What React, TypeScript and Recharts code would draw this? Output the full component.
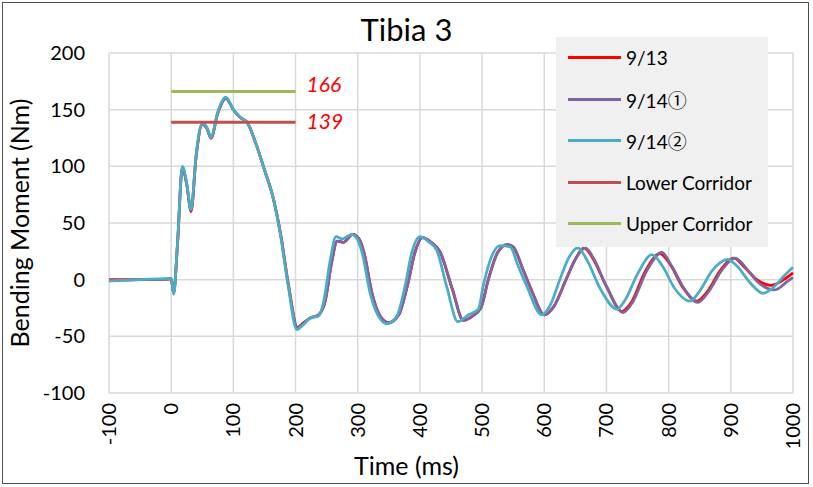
import { LineChart, Line, XAxis, YAxis, CartesianGrid } from "recharts";

const FONT = "Lato, 'Noto Sans CJK JP', sans-serif";
const CJK = "'Noto Sans CJK JP', sans-serif";

const timeTicks = [-100, 0, 100, 200, 300, 400, 500, 600, 700, 800, 900, 1000];
const momentTicks = [-100, -50, 0, 50, 100, 150, 200];

// [time ms, moment Nm]
const run0913: [number, number][] = [
  [-100, 0], [-50, 0], [-5, 0.5], [0, 1], [4, -12], [10, 30], [18, 99], [25, 84], [32, 60],
  [40, 108], [50, 137], [57, 134], [64, 125], [75, 147], [88, 160], [100, 150], [111, 143],
  [122, 139], [135, 122], [150, 97], [165, 70], [176, 40], [189, -6], [203, -42], [213, -38],
  [223, -34], [237, -31], [248, -18], [258, 15], [267, 34], [277, 33], [292, 40], [302, 36],
  [310, 24], [323, -12], [336, -32], [350, -38], [366, -31], [380, -5], [392, 24], [404, 37],
  [418, 33], [432, 25], [452, -8], [470, -36], [485, -32], [498, -25], [510, 0], [525, 24],
  [540, 31], [550, 29], [565, 10], [580, -10], [600, -31], [615, -24], [635, 0], [650, 18],
  [664, 28], [678, 19], [700, -6], [725, -28], [740, -20], [763, 8], [786, 23], [803, 13],
  [823, -7], [845, -19], [863, -10], [883, 8], [905, 19], [922, 11], [942, 0], [964, -5],
  [985, 0], [1000, 6],
];

const run0914a: [number, number][] = [
  [-100, -1], [-50, 0], [-5, 0.5], [0, 1], [4, -12], [10, 30], [18, 99], [25, 84], [32, 61],
  [40, 108], [50, 137], [57, 134], [64, 125], [75, 147], [88, 160], [100, 150], [111, 143],
  [122, 139], [135, 122], [150, 97], [165, 70], [176, 40], [189, -6], [203, -42], [213, -39],
  [223, -34], [237, -31], [248, -18], [258, 15], [267, 34], [277, 33], [292, 40], [302, 36],
  [310, 24], [323, -12], [336, -32], [350, -38], [366, -31], [380, -5], [392, 24], [404, 37],
  [418, 33], [432, 25], [452, -8], [470, -36], [485, -32], [498, -25], [510, 0], [525, 24],
  [540, 31], [550, 29], [565, 10], [580, -10], [600, -31], [615, -24], [635, 0], [650, 18],
  [666, 28], [680, 18], [700, -6], [727, -29], [742, -20], [765, 8], [789, 24], [805, 12],
  [825, -8], [847, -20], [865, -10], [885, 8], [907, 19], [925, 10], [945, -3], [971, -9],
  [990, -2], [1000, 2],
];

const run0914b: [number, number][] = [
  [-100, -1], [-50, 0], [-5, 1], [0, 1], [4, -13], [10, 30], [18, 100], [25, 85], [32, 62],
  [40, 110], [50, 138], [57, 135], [64, 126], [75, 148], [88, 161], [100, 150], [111, 143],
  [122, 139], [135, 122], [150, 97], [165, 70], [175, 42], [188, -5], [202, -44], [212, -40],
  [223, -34], [237, -32], [245, -20], [256, 18], [265, 38], [275, 36], [290, 40], [300, 35],
  [307, 24], [320, -12], [333, -32], [347, -39], [363, -32], [376, -6], [387, 24], [400, 38],
  [415, 33], [427, 26], [443, -6], [461, -37], [478, -31], [494, -26], [502, -5], [515, 20],
  [529, 30], [545, 29], [558, 12], [572, -6], [596, -31], [610, -22], [625, 0], [640, 20],
  [654, 28], [668, 18], [690, -8], [717, -26], [730, -18], [750, 5], [773, 22], [790, 12],
  [810, -8], [834, -19], [850, -10], [870, 8], [895, 18], [910, 12], [930, -2], [952, -12],
  [970, -6], [985, 3], [1000, 11],
];

const corridorStart = 0;
const corridorEnd = 200;
const lowerCorridor = 139;
const upperCorridor = 166;

const toRows = (pts: [number, number][]) => pts.map(([t, v]) => ({ t, v }));

const series = [
  { name: "9/13", color: "#FF0000", data: toRows(run0913) },
  { name: "9/14①", color: "#8064A2", data: toRows(run0914a) },
  { name: "9/14②", color: "#4BACC6", data: toRows(run0914b) },
];

const corridors = [
  { name: "Lower Corridor", color: "#C0504D", value: lowerCorridor, labelShift: 0 },
  { name: "Upper Corridor", color: "#9BBB59", value: upperCorridor, labelShift: -7 },
];

const legendItems = [...series, ...corridors].map((s) => ({ name: s.name, color: s.color }));

const TimeTick = (props: any) => {
  const { x, y, payload } = props;
  return (
    <text
      x={0}
      y={0}
      transform={`translate(${x},${y + 2}) rotate(-90)`}
      textAnchor="end"
      dy="0.35em"
      fontSize={20}
      fontFamily={FONT}
      fill="#000"
    >
      {payload.value}
    </text>
  );
};

// circled digits look better in the CJK font
const renderName = (name: string) => {
  const m = name.match(/^(.*?)([\u2460-\u2473])$/);
  if (!m) return name;
  return (
    <>
      {m[1]}
      <span style={{ fontFamily: CJK }}>{m[2]}</span>
    </>
  );
};

const LegendBox = () => (
  <div
    style={{
      position: "absolute",
      left: 556,
      top: 37,
      background: "#F0F0F0",
      width: 212,
      height: 210,
      boxSizing: "border-box",
      paddingLeft: 12,
    }}
  >
    {legendItems.map((it) => (
      <div key={it.name} style={{ display: "flex", alignItems: "center", height: 41.5 }}>
        <div style={{ width: 53, height: 3, background: it.color, marginRight: 5 }} />
        <span style={{ fontFamily: FONT, fontSize: 19, color: "#000", whiteSpace: "nowrap" }}>
          {renderName(it.name)}
        </span>
      </div>
    ))}
  </div>
);

const endLabel = (color: string, text: string, shift: number) => (props: any) => {
  const { x, y, index } = props;
  if (index !== 1) return null;
  return (
    <text
      key={text}
      x={x + 11}
      y={y + shift}
      dy="0.35em"
      fontSize={21}
      fontStyle="italic"
      fontFamily={FONT}
      fill={color}
    >
      {text}
    </text>
  );
};

export default function App() {
  return (
    <div style={{ position: "absolute", left: 0, top: 0, width: 813, height: 487, background: "#fff" }}>
      <div
        style={{
          position: "absolute",
          left: 0,
          width: 813,
          top: 12,
          lineHeight: "34px",
          textAlign: "center",
          fontFamily: FONT,
          fontSize: 31,
          color: "#000",
        }}
      >
        Tibia 3
      </div>
      <LineChart width={813} height={487} margin={{ top: 53, right: 20, bottom: 0, left: 0 }}>
        <CartesianGrid stroke="#D9D9D9" strokeWidth={1.5} />
        <XAxis
          type="number"
          dataKey="t"
          domain={[-100, 1000]}
          ticks={timeTicks}
          interval={0}
          height={94}
          axisLine={false}
          tickLine={false}
          tick={<TimeTick />}
        />
        <YAxis
          type="number"
          domain={[-100, 200]}
          ticks={momentTicks}
          interval={0}
          width={109}
          axisLine={false}
          tickLine={false}
          tick={{ fontSize: 20, fontFamily: FONT, fill: "#000" }}
          tickMargin={18}
          label={{
            value: "Bending Moment (Nm)",
            angle: -90,
            position: "insideLeft",
            offset: 20,
            style: { textAnchor: "middle" },
            fontSize: 25,
            fontFamily: FONT,
            fill: "#000",
          }}
        />
        {series.map((s) => (
          <Line
            key={s.name}
            name={s.name}
            data={s.data}
            dataKey="v"
            type="monotone"
            stroke={s.color}
            strokeWidth={2.75}
            dot={false}
            isAnimationActive={false}
          />
        ))}
        {corridors.map((c) => (
          <Line
            key={c.name}
            name={c.name}
            data={[
              { t: corridorStart, v: c.value },
              { t: corridorEnd, v: c.value },
            ]}
            dataKey="v"
            type="linear"
            stroke={c.color}
            strokeWidth={3}
            dot={false}
            isAnimationActive={false}
            label={endLabel("#FF0000", String(c.value), c.labelShift)}
          />
        ))}
      </LineChart>
      <div
        style={{
          position: "absolute",
          left: 0,
          width: 813,
          top: 450,
          lineHeight: "30px",
          textAlign: "center",
          fontFamily: FONT,
          fontSize: 25,
          color: "#000",
        }}
      >
        Time (ms)
      </div>
      <LegendBox />
      <div
        style={{
          position: "absolute",
          left: 2,
          top: 2,
          width: 805,
          height: 480,
          border: "1.5px solid #505050",
          pointerEvents: "none",
        }}
      />
    </div>
  );
}
